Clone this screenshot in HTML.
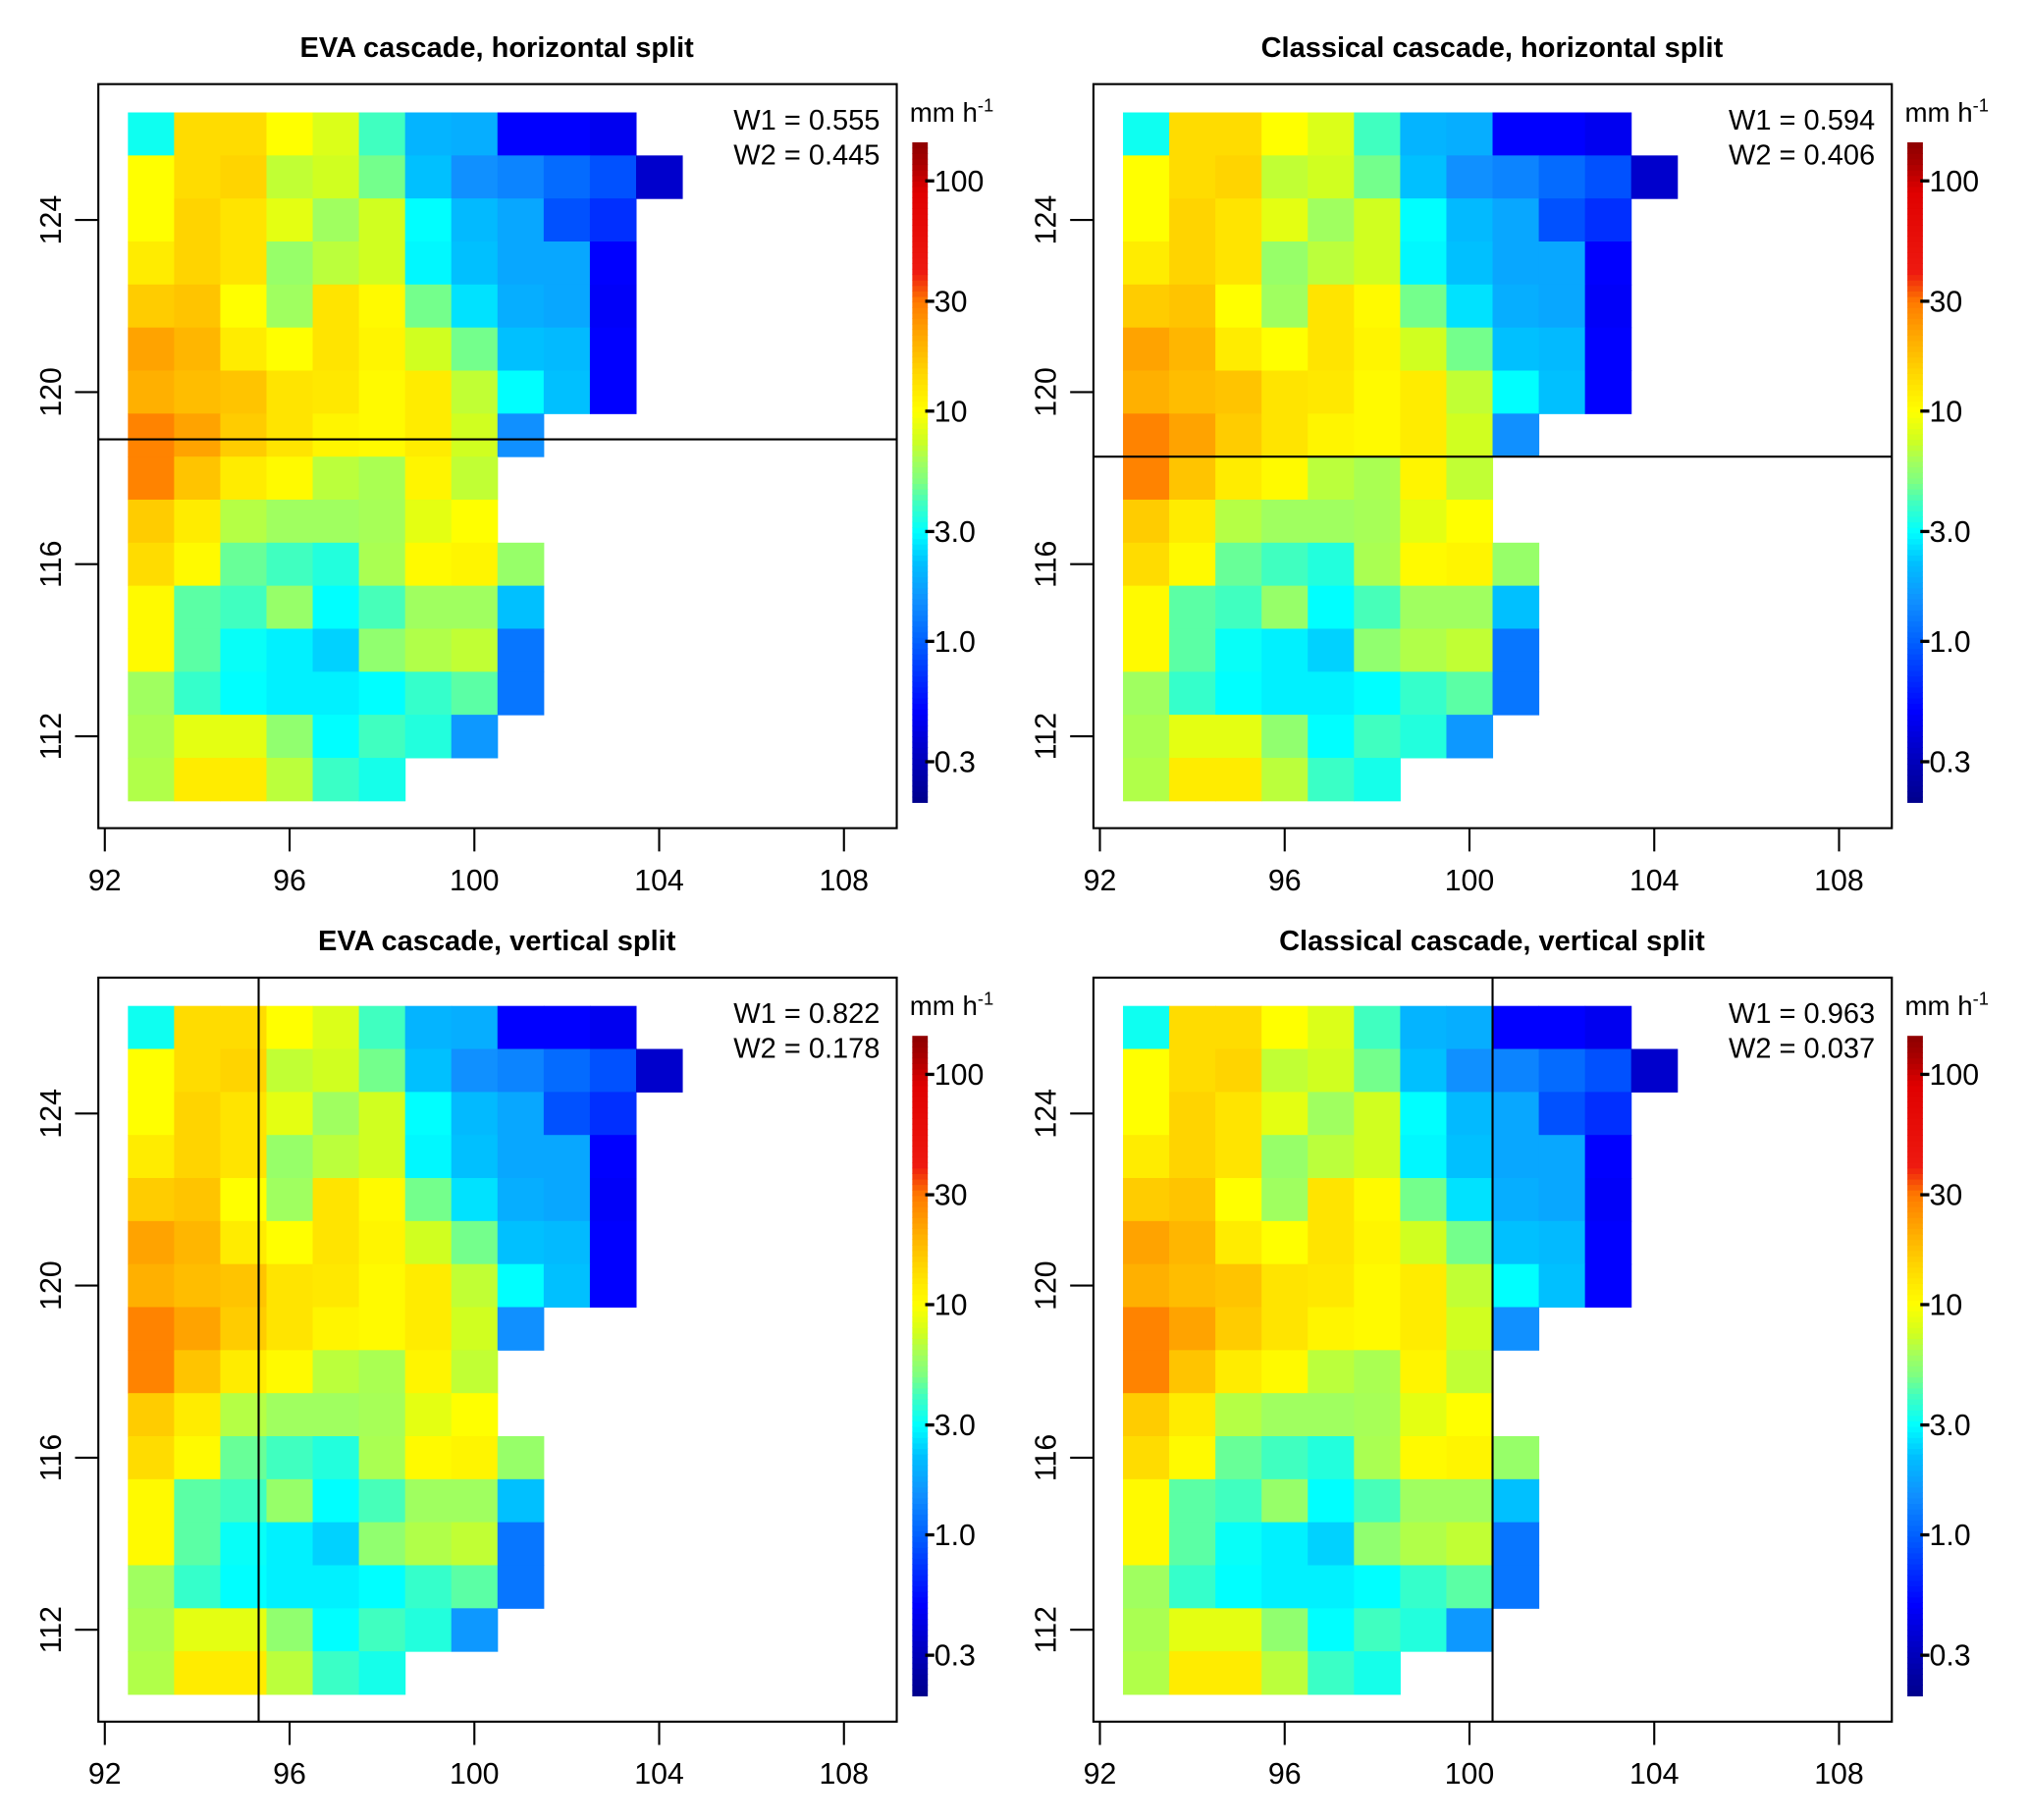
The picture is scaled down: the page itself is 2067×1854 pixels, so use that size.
<!DOCTYPE html>
<html><head><meta charset="utf-8">
<style>
html,body{margin:0;padding:0;background:#fff;}
svg{display:block;font-family:"Liberation Sans",sans-serif;}
</style></head>
<body>
<svg id="fig" width="2067" height="1854" viewBox="0 0 1568 1406.5" preserveAspectRatio="none" xmlns="http://www.w3.org/2000/svg"></svg>
<script>
// ---- data ----
const lonCenters = [93,94,95,96,97,98,99,100,101,102,103,104];
const latCenters = [126,125,124,123,122,121,120,119,118,117,116,115,114,113,112,111];
const rainValues = [
 [3.2,14,14,10,8,4,2,1.9,0.5,0.5,0.45,null],
 [10,14,15,7,7.5,4.8,2.2,1.5,1.35,1.1,0.9,0.35],
 [10,15,13,8.5,6,7.5,3,2.1,1.8,0.9,0.7,null],
 [12,15,13,5.7,6.8,7.5,2.9,2.2,1.8,1.8,0.5,null],
 [16,17,10,6,13,10.5,4.8,2.6,1.9,1.8,0.48,null],
 [22,19,12,10,13,11,7.5,4.8,2.2,2.1,0.5,null],
 [20,18,17,13,12.5,10.5,12,7,3,2.2,0.5,null],
 [28,22,16,13,11,10.5,12,7.5,1.5,null,null,null],
 [28,17,12,10.5,6.8,6.3,11,7,null,null,null,null],
 [16,12,6.6,6,6,6.2,8.5,10,null,null,null,null],
 [14,10.5,4.6,4,3.5,6.3,10.5,11,5.7,null,null,null],
 [10.5,4.4,4,5.7,3,4.1,6,6,2.2,null,null,null],
 [10.5,4.4,3.1,2.8,2.4,5.5,6.5,7,1.2,null,null,null],
 [6,3.8,3,2.8,2.8,3,3.8,4.4,1.2,null,null,null],
 [6.3,8.5,8.5,5.5,3,4,3.5,1.6,null,null,null,null],
 [6.5,12,12,6.8,3.9,3.3,null,null,null,null,null,null]
];
const panelTitles = ["EVA cascade, horizontal split","Classical cascade, horizontal split","EVA cascade, vertical split","Classical cascade, vertical split"];
const w1Values = ["0.555","0.594","0.822","0.963"];
const w2Values = ["0.445","0.406","0.178","0.037"];
const splitTypes = ["h","h","v","v"];
const splitValues = [118.9,118.5,95.33,100.5];
const xTicks = [92,96,100,104,108];
const yTicks = [112,116,120,124];
const cbTicks = [0.3,1,3,10,30,100];
const cbTickLabels = ["0.3","1.0","3.0","10","30","100"];

const cmapV = [0.2,0.35,0.5,1.0,1.5,2.2,3,4,5,6,7.5,10,13,15,20,30,40,90,120,150];
const cmapC = ["#00008b","#0000cc","#0000ff","#0060ff","#1090ff","#00c0ff","#00ffff","#40ffc0","#80ff80","#a0ff60","#d0ff20","#ffff00","#ffe400","#ffd400","#ffb000","#ff7a00","#ee1a10","#e00000","#a80000","#8b0000"];
function hex2rgb(h){return [parseInt(h.substr(1,2),16),parseInt(h.substr(3,2),16),parseInt(h.substr(5,2),16)];}
function cmap(v){
  const lv=Math.log10(Math.max(cmapV[0],Math.min(cmapV[cmapV.length-1],v)));
  for(let i=0;i<cmapV.length-1;i++){
    const a=Math.log10(cmapV[i]),b=Math.log10(cmapV[i+1]);
    if(lv<=b){const t=(lv-a)/(b-a);const c1=hex2rgb(cmapC[i]),c2=hex2rgb(cmapC[i+1]);
      return "rgb("+c1.map((c,k)=>Math.round(c+(c2[k]-c)*t)).join(",")+")";}
  }
  return cmapC[cmapC.length-1];
}
const NS="http://www.w3.org/2000/svg";
const svg=document.getElementById("fig");
function el(tag,attrs,parent){const e=document.createElementNS(NS,tag);for(const k in attrs)e.setAttribute(k,attrs[k]);(parent||svg).appendChild(e);return e;}

const offX=[0,769,0,769], offY=[0,0,690.5,690.5];
for(let p=0;p<4;p++){
  const ox=offX[p], oy=offY[p];
  const g=el("g",{});
  
  
  const xs=v=>ox+81+(v-92)*35.7;
  const ys=v=>oy+170+(124-v)*33.25;
  const t=el("text",{x:ox+384,y:oy+44,"text-anchor":"middle","font-size":"22","font-weight":"bold"},g);
  t.textContent=panelTitles[p];
  
  
  for(let r=0;r<latCenters.length;r++)for(let c=0;c<lonCenters.length;c++){
    const v=rainValues[r][c]; if(v==null)continue;
    const rc=el("rect",{x:xs(lonCenters[c]-0.5),y:ys(latCenters[r]+0.5),width:35.7+0.4,height:33.25+0.4,fill:cmap(v)},g);
    
    
  }
  let ln;
  if(splitTypes[p]=="h"){const y=ys(splitValues[p]);ln=el("line",{x1:ox+76,x2:ox+693,y1:y,y2:y,stroke:"#000","stroke-width":1.6},g);}
  else{const x=xs(splitValues[p]);ln=el("line",{x1:x,x2:x,y1:oy+65,y2:oy+640,stroke:"#000","stroke-width":1.6},g);}
  
  
  const bx=el("rect",{x:ox+76,y:oy+65,width:617,height:575,fill:"none",stroke:"#000","stroke-width":1.6},g);
  
  
  xTicks.forEach(v=>{
    el("line",{x1:xs(v),x2:xs(v),y1:oy+640,y2:oy+658,stroke:"#000","stroke-width":1.6},g);
    const tl=el("text",{x:xs(v),y:oy+688,"text-anchor":"middle","font-size":"23"},g);
    tl.textContent=v;
    
    
  });
  yTicks.forEach(v=>{
    el("line",{x1:ox+58,x2:ox+76,y1:ys(v),y2:ys(v),stroke:"#000","stroke-width":1.6},g);
    const tl=el("text",{x:ox+47,y:ys(v),"text-anchor":"middle","font-size":"23",transform:"rotate(-90 "+(ox+47)+" "+ys(v)+")"},g);
    tl.textContent=v;
    
    
  });
  const w1=el("text",{x:ox+680,y:oy+100,"text-anchor":"end","font-size":"22"},g);
  w1.textContent="W1 = "+w1Values[p];
  
  
  const w2=el("text",{x:ox+680,y:oy+127,"text-anchor":"end","font-size":"22"},g);
  w2.textContent="W2 = "+w2Values[p];
  
  
  const cbTop=oy+110,cbBot=oy+620,cx=ox+705;
  const lmin=Math.log10(0.2),lmax=Math.log10(147);
  const cy=v=>cbBot-(Math.log10(v)-lmin)/(lmax-lmin)*(cbBot-cbTop);
  const cb=el("g",{},g);
  
  
  const n=120;
  for(let i=0;i<n;i++){
    const lv=lmin+(lmax-lmin)*(i+0.5)/n;
    const y0=cbBot-(i+1)*(cbBot-cbTop)/n;
    el("rect",{x:cx,y:y0,width:12,height:(cbBot-cbTop)/n+0.5,fill:cmap(Math.pow(10,lv))},cb);
  }
  cbTicks.forEach((v,i)=>{
    el("line",{x1:cx+10,x2:cx+17,y1:cy(v),y2:cy(v),stroke:"#000","stroke-width":2.5},cb);
    const tl=el("text",{x:cx+17,y:cy(v)+8,"font-size":"23"},cb);
    tl.textContent=cbTickLabels[i];
    
    
  });
  const un=el("text",{x:ox+703,y:oy+94,"font-size":"21"},g);
  un.innerHTML='mm h<tspan dy="-8" font-size="14">-1</tspan>';
  
  
}
</script>
</body></html>
